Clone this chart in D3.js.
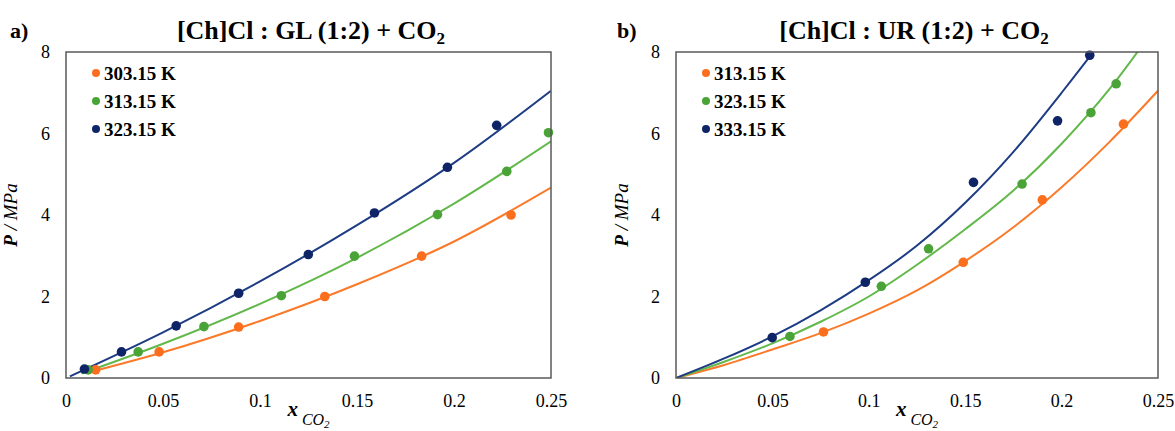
<!DOCTYPE html>
<html>
<head>
<meta charset="utf-8">
<script src="https://cdn.jsdelivr.net/npm/d3@7"></script>
<style>
  html, body { margin: 0; padding: 0; background: #fff; }
  svg { display: block; }
</style>
</head>
<body>
<svg id="chart" width="1175" height="431"></svg>
<script>
const FONT = "'Liberation Serif', 'Times New Roman', Times, 'DejaVu Serif', serif";

// ---- shared axis settings ----
const xTicks = [0, 0.05, 0.1, 0.15, 0.2, 0.25];
const xTickLabels = ["0", "0.05", "0.1", "0.15", "0.2", "0.25"];
const yTicks = [0, 2, 4, 6, 8];
const yTickLabels = ["0", "2", "4", "6", "8"];

// ---- panel a: [Ch]Cl : GL (1:2) + CO2 ----
const glLegend = ["303.15 K", "313.15 K", "323.15 K"];
const glX303 = [0.0153, 0.048, 0.089, 0.1334, 0.1833, 0.2294];
const glP303 = [0.20, 0.64, 1.25, 2.00, 2.99, 4.00];
const glX313 = [0.0114, 0.0372, 0.0711, 0.111, 0.1487, 0.1915, 0.2272, 0.2487];
const glP313 = [0.20, 0.64, 1.26, 2.02, 2.99, 4.01, 5.07, 6.02];
const glX323 = [0.0095, 0.0286, 0.0568, 0.089, 0.1249, 0.159, 0.1966, 0.222];
const glP323 = [0.22, 0.64, 1.28, 2.08, 3.03, 4.05, 5.17, 6.20];
// model curves
const glFitX303 = [0.012, 0.05, 0.1, 0.15, 0.2, 0.25];
const glFitP303 = [0.14, 0.63, 1.40, 2.30, 3.35, 4.67];
const glFitX313 = [0.008, 0.05, 0.1, 0.15, 0.2, 0.25];
const glFitP313 = [0.11, 0.84, 1.82, 2.95, 4.28, 5.81];
const glFitX323 = [0.002, 0.05, 0.1, 0.15, 0.2, 0.25];
const glFitP323 = [0.04, 1.12, 2.37, 3.75, 5.28, 7.05];

// ---- panel b: [Ch]Cl : UR (1:2) + CO2 ----
const urLegend = ["313.15 K", "323.15 K", "333.15 K"];
const urX313 = [0.0765, 0.149, 0.19, 0.2321];
const urP313 = [1.13, 2.84, 4.37, 6.23];
const urX323 = [0.0591, 0.1065, 0.131, 0.1795, 0.2152, 0.2283];
const urP323 = [1.02, 2.25, 3.17, 4.76, 6.51, 7.22];
const urX333 = [0.0499, 0.0982, 0.1543, 0.1979, 0.2146];
const urP333 = [0.99, 2.35, 4.80, 6.31, 7.92];
// model curves
const urFitX = [0, 0.025, 0.05, 0.075, 0.1, 0.125, 0.15, 0.175, 0.2, 0.225, 0.25];
const urFitP313 = [0, 0.32, 0.70, 1.10, 1.58, 2.15, 2.87, 3.70, 4.68, 5.80, 7.05];
const urFitP323 = [0, 0.40, 0.85, 1.38, 2.00, 2.78, 3.65, 4.60, 5.75, 7.10, 8.70];
const urFitP333 = [0, 0.48, 1.02, 1.66, 2.40, 3.25, 4.30, 5.55, 7.00, 8.55, 10.3];

// series colours (low, mid, high temperature)
const markerColors = ["#fb6e1d", "#4aa337", "#0f2466"];
const lineColors = ["#fb7a2a", "#62b84a", "#1e3c84"];

const zip = (xs, ys) => xs.map((v, i) => ({ x: v, p: ys[i] }));

const panels = [
  {
    id: "a", tag: "a)", title: "[Ch]Cl : GL (1:2) + CO",
    left: 66, right: 551, top: 52, bottom: 378,
    tagX: 10, titleX: 311, yTitleX: 17,
    legend: glLegend,
    points: [zip(glX303, glP303), zip(glX313, glP313), zip(glX323, glP323)],
    fits: [zip(glFitX303, glFitP303), zip(glFitX313, glFitP313), zip(glFitX323, glFitP323)]
  },
  {
    id: "b", tag: "b)", title: "[Ch]Cl : UR (1:2) + CO",
    left: 676, right: 1158, top: 52, bottom: 378,
    tagX: 617, titleX: 914, yTitleX: 628,
    legend: urLegend,
    points: [zip(urX313, urP313), zip(urX323, urP323), zip(urX333, urP333)],
    fits: [zip(urFitX, urFitP313), zip(urFitX, urFitP323), zip(urFitX, urFitP333)]
  }
];

const svg = d3.select("#chart");

panels.forEach(p => {
  const g = svg.append("g").attr("class", "panel-" + p.id);
  const x = d3.scaleLinear().domain([0, 0.25]).range([p.left, p.right]);
  const y = d3.scaleLinear().domain([0, 8]).range([p.bottom, p.top]);

  const clipId = "clip-" + p.id;
  g.append("clipPath").attr("id", clipId)
    .append("rect")
    .attr("x", p.left).attr("y", p.top)
    .attr("width", p.right - p.left).attr("height", p.bottom - p.top);

  // x axis labels
  const xAxis = d3.axisBottom(x).tickValues(xTicks).tickSize(0).tickPadding(16)
    .tickFormat((d, i) => xTickLabels[i]);
  const gx = g.append("g").attr("transform", `translate(0,${p.bottom})`).call(xAxis);
  gx.select(".domain").remove();
  gx.attr("font-size", 18);

  // y axis labels
  const yAxis = d3.axisLeft(y).tickValues(yTicks).tickSize(0).tickPadding(16)
    .tickFormat((d, i) => yTickLabels[i]);
  const gy = g.append("g").attr("transform", `translate(${p.left},0)`).call(yAxis);
  gy.select(".domain").remove();
  gy.attr("font-size", 18);

  // model curves
  const line = d3.line().x(d => x(d.x)).y(d => y(d.p)).curve(d3.curveMonotoneX);
  const curves = g.append("g").attr("clip-path", `url(#${clipId})`);
  p.fits.forEach((f, i) => {
    curves.append("path").datum(f)
      .attr("d", line)
      .attr("fill", "none")
      .attr("stroke", lineColors[i])
      .attr("stroke-width", 2);
  });

  // experimental points
  p.points.forEach((pts, i) => {
    g.append("g").selectAll("circle").data(pts).join("circle")
      .attr("cx", d => x(d.x)).attr("cy", d => y(d.p))
      .attr("r", 4.8)
      .attr("fill", markerColors[i]);
  });

  // plot frame
  g.append("rect")
    .attr("x", p.left).attr("y", p.top)
    .attr("width", p.right - p.left).attr("height", p.bottom - p.top)
    .attr("fill", "none").attr("stroke", "#595959").attr("stroke-width", 1.5);

  // legend
  const lg = g.append("g");
  p.legend.forEach((lab, i) => {
    const ly = p.top + 21 + i * 28;
    lg.append("circle").attr("cx", p.left + 30).attr("cy", ly).attr("r", 4)
      .attr("fill", markerColors[i]);
    lg.append("text").attr("x", p.left + 38).attr("y", ly + 6.5)
      .attr("font-size", 19).attr("font-weight", "bold").text(lab);
  });

  // panel tag
  g.append("text").attr("x", p.tagX).attr("y", 38)
    .attr("font-size", 22).attr("font-weight", "bold").text(p.tag);

  // title
  const t = g.append("text").attr("x", p.titleX).attr("y", 39)
    .attr("text-anchor", "middle").attr("font-size", 26).attr("font-weight", "bold");
  t.append("tspan").text(p.title);
  t.append("tspan").attr("font-size", 17).attr("dy", 5).text("2");

  // y axis title
  const yt = g.append("text")
    .attr("transform", `translate(${p.yTitleX},${(p.top + p.bottom) / 2}) rotate(-90)`)
    .attr("text-anchor", "middle").attr("font-size", 19).attr("font-style", "italic");
  yt.append("tspan").attr("font-weight", "bold").text("P");
  yt.append("tspan").text(" / MPa");

  // x axis title
  const xt = g.append("text")
    .attr("x", (p.left + p.right) / 2).attr("y", 416)
    .attr("text-anchor", "middle").attr("font-style", "italic");
  xt.append("tspan").attr("font-size", 21).attr("font-weight", "bold").text("x");
  xt.append("tspan").attr("font-size", 16).attr("dx", 4).attr("dy", 9).text("CO");
  xt.append("tspan").attr("font-size", 11).attr("dy", 3).text("2");
});

// serif typeface and black fill for every label
svg.selectAll("text").style("font-family", FONT).style("fill", "#000");
svg.selectAll("g").attr("font-family", null);
</script>
</body>
</html>
